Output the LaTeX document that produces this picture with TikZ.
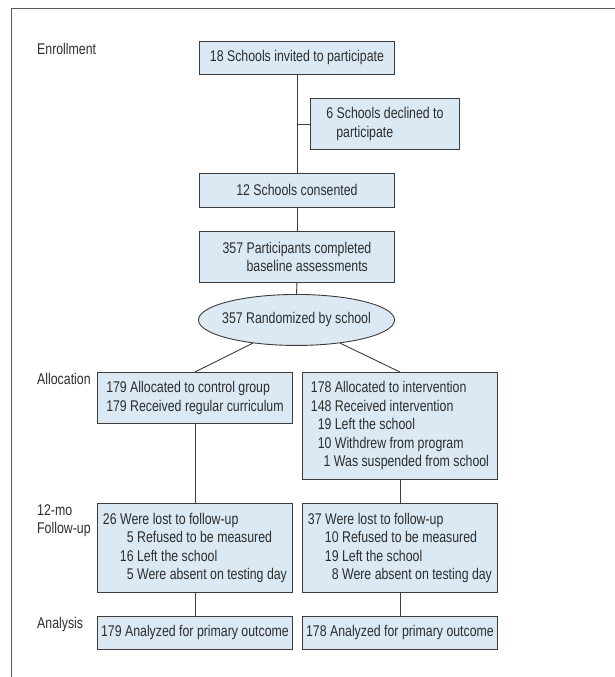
\documentclass[tikz,border=0pt]{standalone}
\usepackage{fontspec}
\setmainfont{Liberation Sans}[FakeStretch=0.795]
\usetikzlibrary{shapes.geometric}
\definecolor{boxfill}{RGB}{218,233,244}
\definecolor{boxline}{RGB}{60,60,60}
\definecolor{inkgray}{RGB}{45,45,45}
\tikzset{
  flowbox/.style={draw=boxline, fill=boxfill, line width=0.9pt, anchor=north west,
    minimum width=195pt, inner sep=0pt, align=center},
  listbox/.style={flowbox, align=left},
  stage/.style={anchor=north west, inner sep=0pt, align=left},
  link/.style={draw=boxline, line width=0.9pt}
}
\begin{document}
\begin{tikzpicture}[x=1pt, y=-1pt, font=\fontsize{15.5}{18.5}\selectfont, color=inkgray]
  \useasboundingbox (0,0) rectangle (615,677);
  \draw[boxline!85, line width=1pt] (11,677) -- (11,9) -- (615,9);

  % phases
  \node[stage] (enr) at (37,43.5) {Enrollment};
  \node[stage] (alloc) at (37,373) {Allocation};
  \node[stage] (follow) at (37,504) {12-mo\\Follow-up};
  \node[stage] (anal) at (37,617) {Analysis};

  % enrollment column
  \node[flowbox, minimum height=33pt] (invited) at (199,41) {18 Schools invited to participate};
  \node[flowbox, minimum width=149pt, minimum height=51pt, align=left] (declined) at (310,98)
    {6 Schools declined to\\\hspace{10pt}participate};
  \node[flowbox, minimum height=34pt] (consent) at (199,173) {12 Schools consented};
  \node[flowbox, minimum height=51pt, align=left] (baseline) at (199,231)
    {357 Participants completed\\\hspace{24pt}baseline assessments};
  \node[flowbox, ellipse, anchor=north, inner xsep=-5pt, minimum height=51pt] (random)
    at (296.5,294) {357 Randomized by school};

  % allocation
  \node[listbox, minimum height=51pt] (ctrl) at (97,372)
    {179 Allocated to control group\\179 Received regular curriculum};
  \node[listbox, minimum height=107pt] (interv) at (302,372)
    {178 Allocated to intervention\\148 Received intervention\\\phantom{1}19 Left the school\\
     \phantom{1}10 Withdrew from program\\\phantom{11}1 Was suspended from school};

  % follow-up
  \node[listbox, minimum height=89pt] (fctrl) at (97,503)
    {26 Were lost to follow-up\\\hspace{17pt}\phantom{1}5 Refused to be measured\\
     \hspace{17pt}16 Left the school\\\hspace{17pt}\phantom{1}5 Were absent on testing day};
  \node[listbox, minimum height=89pt] (finterv) at (302,503)
    {37 Were lost to follow-up\\\hspace{17pt}10 Refused to be measured\\
     \hspace{17pt}19 Left the school\\\hspace{17pt}\phantom{1}8 Were absent on testing day};

  % analysis
  \node[flowbox, minimum height=33pt] (actrl) at (97,616) {179 Analyzed for primary outcome};
  \node[flowbox, minimum height=33pt] (ainterv) at (302,616) {178 Analyzed for primary outcome};

  \draw[link] (invited.south) -- (consent.north);
  \draw[link] (declined.west) -- (declined.west -| invited.south);
  \draw[link] (consent.south) -- (baseline.north);
  \draw[link] (baseline.south) -- (random.north);
  \draw[link] (random.208) -- (ctrl.north);
  \draw[link] (random.332) -- (interv.north);
  \draw[link] (ctrl.south) -- (fctrl.north);
  \draw[link] (interv.south) -- (finterv.north);
  \draw[link] (fctrl.south) -- (actrl.north);
  \draw[link] (finterv.south) -- (ainterv.north);
\end{tikzpicture}
\end{document}
